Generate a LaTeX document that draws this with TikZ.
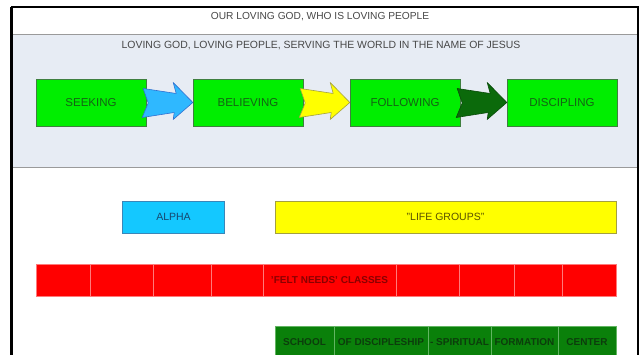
\documentclass[tikz,border=0pt]{standalone}
\usepackage{fontspec}
\setmainfont{Liberation Sans}
\usepackage{xcolor}
\usepackage{tikz}
\usetikzlibrary{calc}
\definecolor{bandfill}{HTML}{E7ECF4}
\definecolor{bandline}{HTML}{9A9A9A}
\definecolor{headtext}{HTML}{474747}
\definecolor{stagegreen}{HTML}{00EE00}
\definecolor{stageline}{HTML}{3F7F3F}
\definecolor{stagetext}{HTML}{146214}
\definecolor{alphablue}{HTML}{14C8FF}
\definecolor{alphaline}{HTML}{3A86B8}
\definecolor{alphatext}{HTML}{17476E}
\definecolor{arrowblue}{HTML}{2FB8FF}
\definecolor{arrowblueline}{HTML}{2F6FD0}
\definecolor{lifeyellow}{HTML}{FFFF00}
\definecolor{lifeline}{HTML}{A3A040}
\definecolor{lifetext}{HTML}{5A5200}
\definecolor{feltred}{HTML}{FF0000}
\definecolor{feltline}{HTML}{FF7A7A}
\definecolor{felttext}{HTML}{8A0000}
\definecolor{schoolgreen}{HTML}{0A800A}
\definecolor{schoolline}{HTML}{62B562}
\definecolor{schooltext}{HTML}{0C3D0C}
\definecolor{darkarrow}{HTML}{0B6A0B}
\definecolor{darkarrowline}{HTML}{0A4A0A}
\tikzstyle{headline} = [text=headtext, font=\fontsize{10.2}{12}\selectfont]
\tikzstyle{stage} = [rectangle, minimum width=110pt, minimum height=47pt, text centered, draw=stageline, fill=stagegreen, text=stagetext, font=\fontsize{11.5}{13}\selectfont]
\tikzstyle{bar} = [rectangle, minimum height=32pt, outer sep=0pt, text centered, font=\fontsize{10.5}{12}\selectfont]
\tikzstyle{feltcell} = [rectangle, minimum height=32pt, inner sep=0pt, outer sep=0pt, anchor=west, draw=feltline, fill=feltred, text=felttext, font=\bfseries\fontsize{10}{12}\selectfont]
\tikzstyle{schoolcell} = [rectangle, minimum height=32pt, inner sep=0pt, outer sep=0pt, anchor=west, draw=schoolline, fill=schoolgreen, text=schooltext, font=\bfseries\fontsize{10}{12}\selectfont]
\tikzstyle{flow} = [line width=0.6pt, line join=round]
\newcommand{\blockarrow}[3]{%
  \draw [flow, #3] ($(#1.east)+(-3,-14)$) -- ($(#1.east)+(2,0.5)$) -- ($(#1.east)+(-4,15)$) -- ($(#1.east)+(28,10)$) -- ($(#1.east)+(27,17)$) -- (#2.west) -- ($(#1.east)+(27,-20)$) -- ($(#1.east)+(30,-9)$) -- cycle;}

\begin{document}
\begin{tikzpicture}[x=1pt, y=-1pt, node distance=157pt]
    \useasboundingbox (0,0) rectangle (642,355);
    \clip (0,0) rectangle (642,355);
    \fill [white] (0,0) rectangle (642,355);
    \fill [bandfill] (12,35) rectangle (638,168);
    \draw [bandline, line width=1pt] (12,35) -- (638,35);
    \draw [bandline, line width=1pt] (12,168) -- (638,168);
    \draw [black, line width=2pt] (12,370) -- (12,7) -- (638,7) -- (638,370);
    \draw [black, line width=1.5pt] (11,7) -- (11,370);
    \node (Title) [headline] at (320,17) {OUR LOVING GOD, WHO IS LOVING PEOPLE};
    \node (Motto) [headline, font=\fontsize{10.45}{12}\selectfont] at (321,46) {LOVING GOD, LOVING PEOPLE, SERVING THE WORLD IN THE NAME OF JESUS};
    \node (Seeking) [stage] at (91,102.5) {SEEKING};
    \node (Believing) [stage, right of=Seeking] {BELIEVING};
    \node (Following) [stage, right of=Believing] {FOLLOWING};
    \node (Discipling) [stage, right of=Following] {DISCIPLING};
    \blockarrow{Seeking}{Believing}{draw=arrowblueline, fill=arrowblue}
    \blockarrow{Believing}{Following}{draw=lifeline, fill=lifeyellow}
    \blockarrow{Following}{Discipling}{draw=darkarrowline, fill=darkarrow}
    \node (Alpha) [bar, minimum width=102pt, draw=alphaline, fill=alphablue, text=alphatext] at (173.5,217) {ALPHA};
    \node (LifeGroups) [bar, minimum width=341pt, draw=lifeline, fill=lifeyellow, text=lifetext] at (445.5,217) {"LIFE GROUPS"};
    \node (Felt1) [feltcell, minimum width=54pt] at (36,280) {};
    \node (Felt2) [feltcell, minimum width=63pt] at (Felt1.east) {};
    \node (Felt3) [feltcell, minimum width=58pt] at (Felt2.east) {};
    \node (Felt4) [feltcell, minimum width=52pt] at (Felt3.east) {};
    \node (FeltNeeds) [feltcell, minimum width=133pt] at (Felt4.east) {'FELT NEEDS' CLASSES};
    \node (Felt6) [feltcell, minimum width=63pt] at (FeltNeeds.east) {};
    \node (Felt7) [feltcell, minimum width=55pt] at (Felt6.east) {};
    \node (Felt8) [feltcell, minimum width=48pt] at (Felt7.east) {};
    \node (Felt9) [feltcell, minimum width=54pt] at (Felt8.east) {};
    \node (School) [schoolcell, minimum width=59pt] at (275,342) {SCHOOL};
    \node (OfDiscipleship) [schoolcell, minimum width=94pt] at (School.east) {OF DISCIPLESHIP};
    \node (Spiritual) [schoolcell, minimum width=63pt] at (OfDiscipleship.east) {- SPIRITUAL};
    \node (Formation) [schoolcell, minimum width=67pt] at (Spiritual.east) {FORMATION};
    \node (Center) [schoolcell, minimum width=58pt] at (Formation.east) {CENTER};
\end{tikzpicture}
\end{document}
